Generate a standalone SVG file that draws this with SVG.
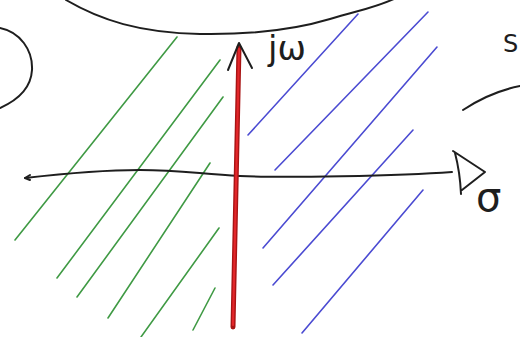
<svg xmlns="http://www.w3.org/2000/svg" width="520" height="337" viewBox="0 0 520 337">
<style>
.ink{fill:none;stroke:#1e1e1e;stroke-width:2;stroke-linecap:round;stroke-linejoin:round}
.g{fill:none;stroke:#3f9a44;stroke-width:1.6;stroke-linecap:round}
.b{fill:none;stroke:#4b4bd2;stroke-width:1.6;stroke-linecap:round}
.lbl{font-family:"DejaVu Sans","Liberation Sans",sans-serif;fill:#1e1e1e}
</style>
<rect width="520" height="337" fill="#ffffff"/>
<g id="contours">
<path class="ink" d="M66,0 C100,20 140,33 200,34 S300,28 330,19 S375,8 396,-2"/>
<path class="ink" d="M0,28 C20,32 33,50 32,70 C31,88 18,100 0,108"/>
<path class="ink" d="M463,110 Q490,92 520,86"/>
<text class="lbl" x="503" y="52" font-size="24">S</text>
</g>
<g id="green-hatch">
<path class="g" d="M177,37 L15,240"/>
<path class="g" d="M220,60 L57,278"/>
<path class="g" d="M223,97 L77,297"/>
<path class="g" d="M210,163 L108,318"/>
<path class="g" d="M219,228 L141,337"/>
<path class="g" d="M215,288 L193,330"/>
</g>
<g id="blue-hatch">
<path class="b" d="M358,14 L248,135"/>
<path class="b" d="M428,12 L275,170"/>
<path class="b" d="M437,47 L263,248"/>
<path class="b" d="M413,130 L273,285"/>
<path class="b" d="M423,190 L302,333"/>
</g>
<g id="sigma-axis">
<path class="ink" d="M25,178 C60,174 100,170 140,170 S200,174 240,176 S400,176 452,172"/>
<path class="ink" d="M30,175 L25,178 L30,180"/>
<path class="ink" d="M453,151 L485,172 L462,190 M455,153 Q460,172 461,194"/>
<text class="lbl" x="476" y="211" font-size="40">σ</text>
</g>
<g id="jw-axis">
<path d="M233,327 L239,47" fill="none" stroke="#a81414" stroke-width="5" stroke-linecap="round"/>
<path d="M233,325 L239,49" fill="none" stroke="#e3262a" stroke-width="2.2" stroke-linecap="round"/>
<path class="ink" d="M228,70 L239,43 L252,68"/>
<text class="lbl" x="268" y="60" font-size="34">jω</text>
</g>
</svg>
